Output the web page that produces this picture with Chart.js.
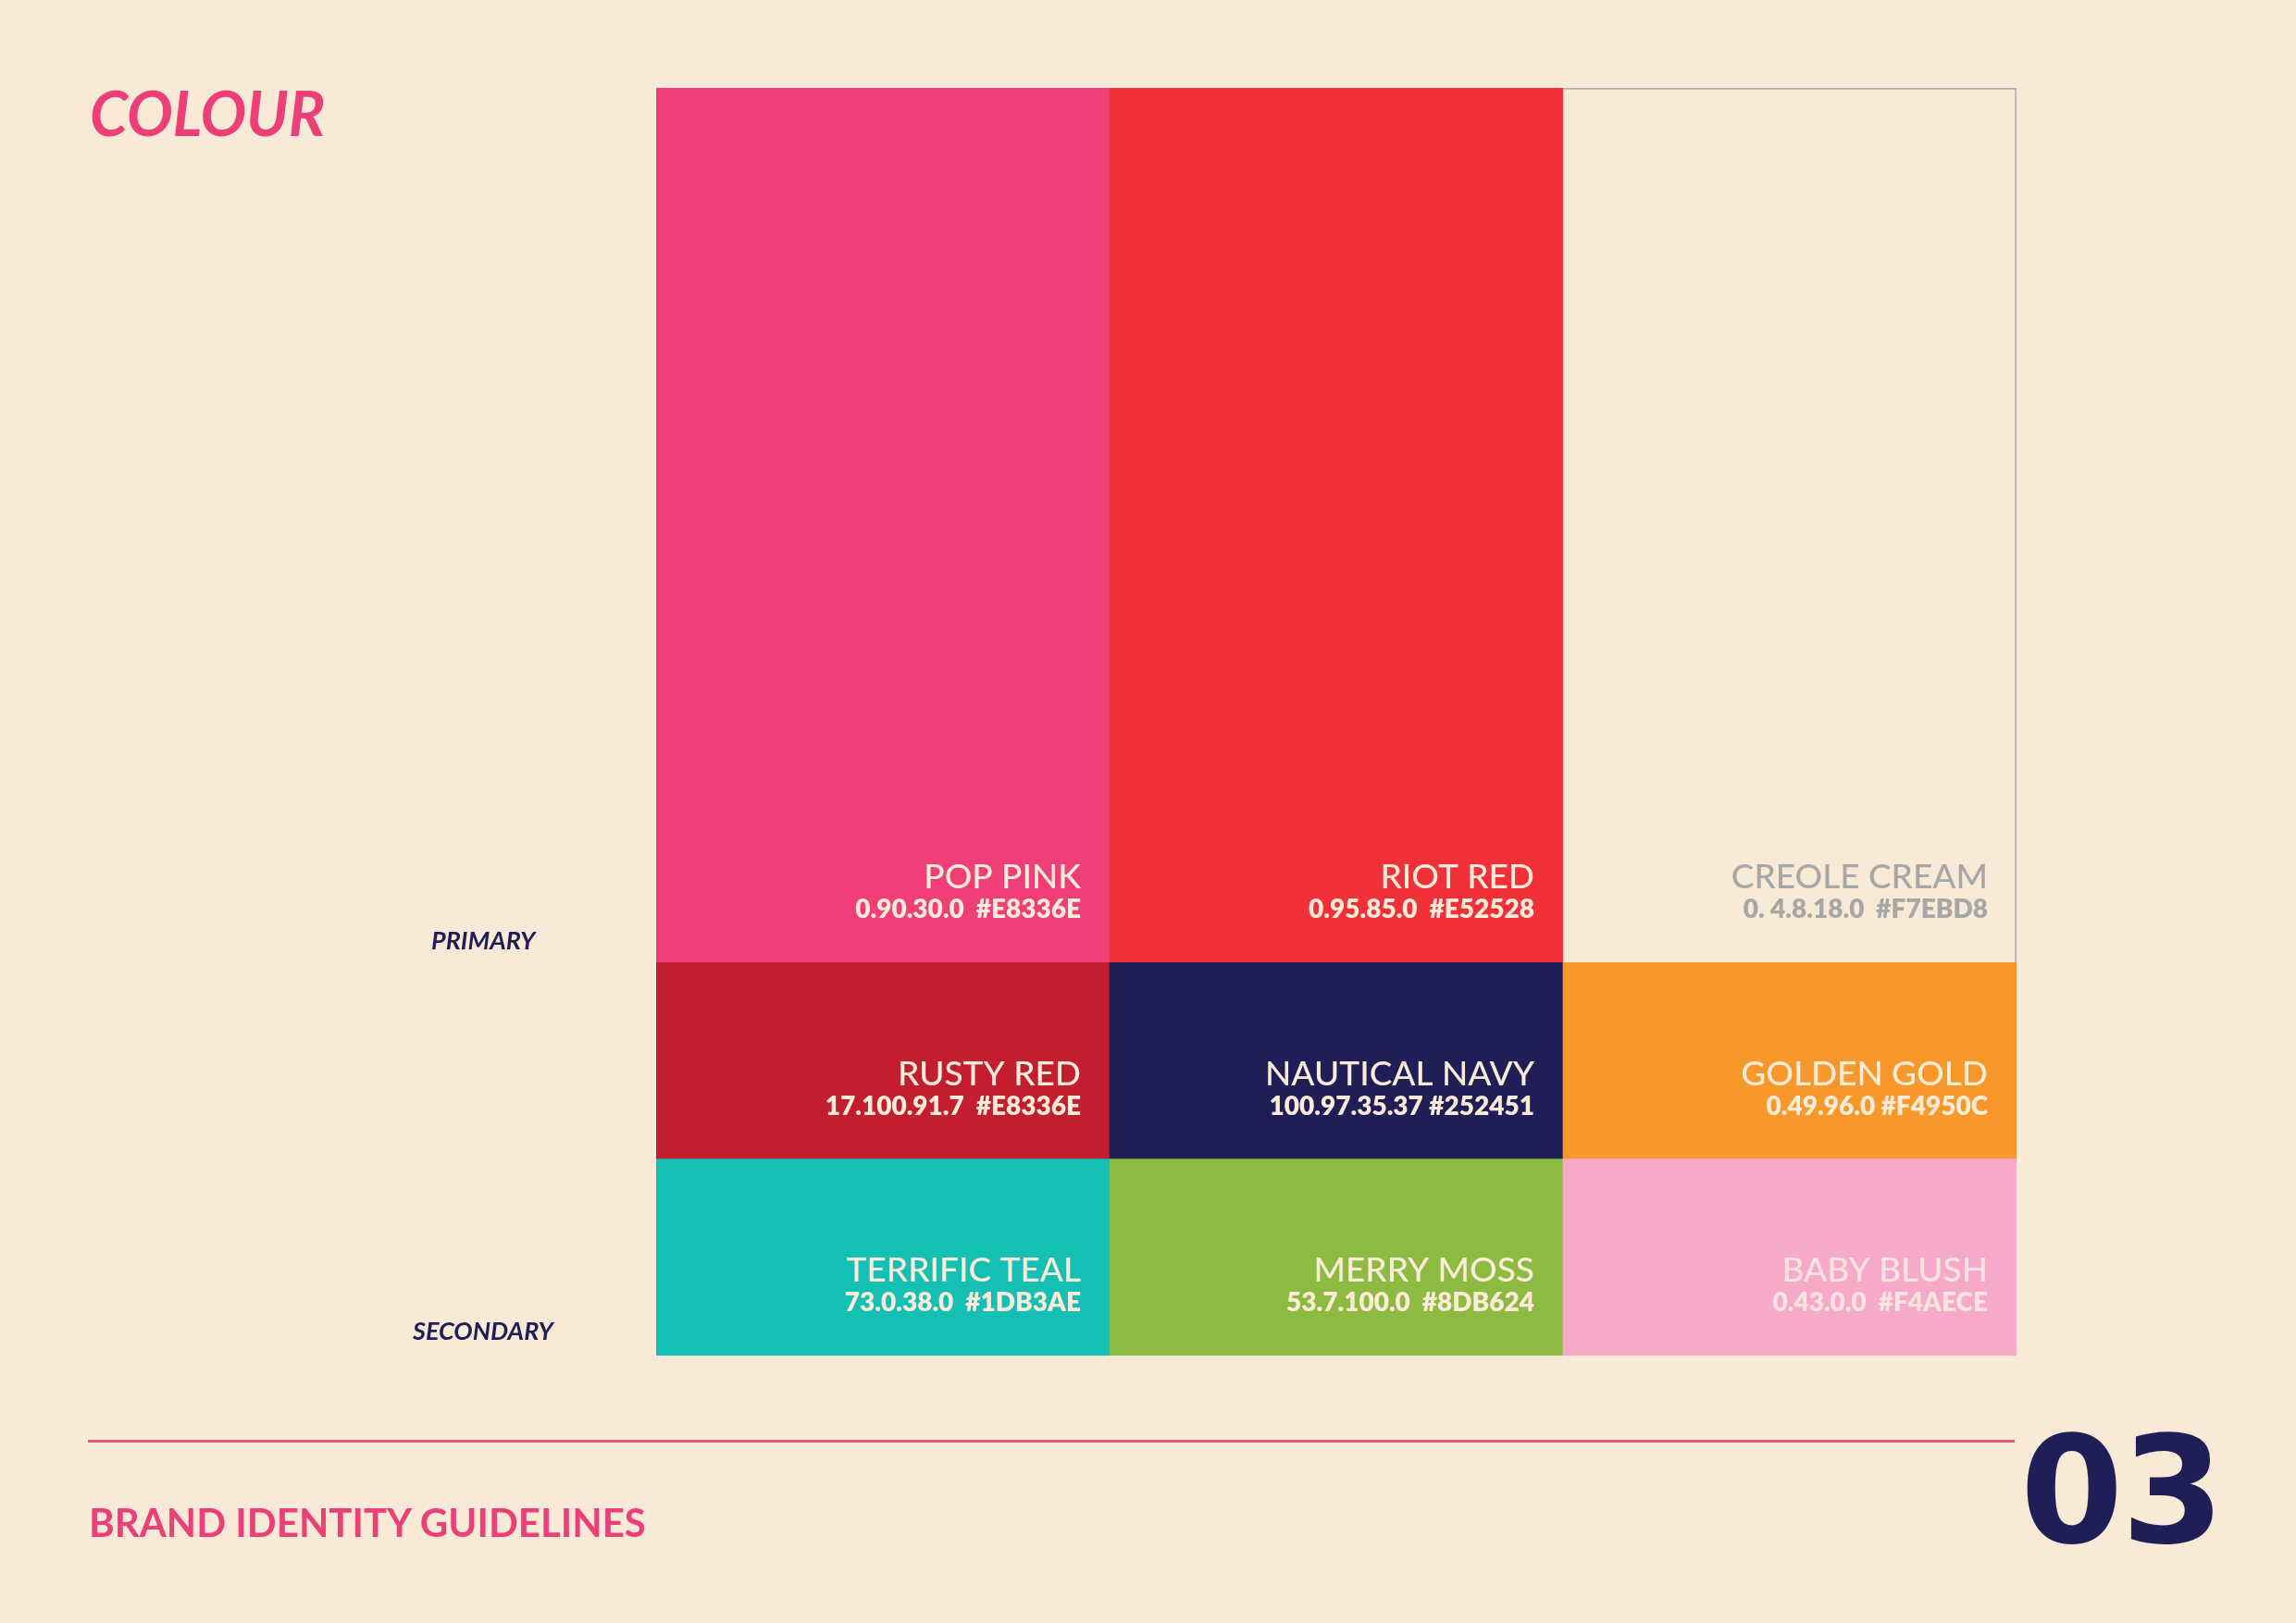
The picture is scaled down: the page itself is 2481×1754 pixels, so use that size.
<!DOCTYPE html>
<html><head><meta charset="utf-8">
<script src="https://cdn.jsdelivr.net/npm/chart.js@4"></script>
<style>
html,body{margin:0;padding:0;background:#F9EAD7;width:2481px;height:1754px;overflow:hidden;font-family:Lato,sans-serif}
#wrap{position:absolute;left:0;top:0;width:2481px;height:1754px}
.t{position:absolute;white-space:nowrap}
</style></head><body>
<div id="wrap"><canvas id="c" width="2481" height="1754"></canvas></div>
<div class="t" style="left:97px;top:82px;font-size:66px;font-style:italic;font-weight:700;color:#EC3F77">COLOUR</div>
<div class="t" style="left:466px;top:999px;font-size:27px;font-style:italic;font-weight:700;color:#1F1E57">PRIMARY</div>
<div class="t" style="left:446px;top:1421px;font-size:27px;font-style:italic;font-weight:700;color:#1F1E57">SECONDARY</div>
<div class="t" style="left:95px;top:1556px;width:2082px;height:3px;background:#E3587A"></div>
<div class="t" style="left:96px;top:1620px;font-size:42px;font-weight:700;color:#EC3F77">BRAND IDENTITY GUIDELINES</div>
<div class="t" style="left:2183px;top:1518px;font-size:160px;font-weight:900;color:#1F1E57;letter-spacing:-2px;font-family:'DejaVu Sans',sans-serif">03</div>
<script>
const categories = ['Column 1','Column 2','Column 3'];
const secondaryLowValues = [15.5, 15.5, 15.5];
const secondaryMidValues = [15.5, 15.5, 15.5];
const primaryValues = [69, 69, 69];
const secondaryLowNames = ['TERRIFIC TEAL','MERRY MOSS','BABY BLUSH'];
const secondaryLowCodes = ['73.0.38.0  #1DB3AE','53.7.100.0  #8DB624','0.43.0.0  #F4AECE'];
const secondaryMidNames = ['RUSTY RED','NAUTICAL NAVY','GOLDEN GOLD'];
const secondaryMidCodes = ['17.100.91.7  #E8336E','100.97.35.37 #252451','0.49.96.0 #F4950C'];
const primaryNames = ['POP PINK','RIOT RED','CREOLE CREAM'];
const primaryCodes = ['0.90.30.0  #E8336E','0.95.85.0  #E52528','0. 4.8.18.0  #F7EBD8'];

const labelsPlugin = {
  id:'swatchLabels',
  afterDatasetsDraw(chart){
    const ctx = chart.ctx;
    chart.data.datasets.forEach((ds,i)=>{
      const meta = chart.getDatasetMeta(i);
      meta.data.forEach((el,j)=>{
        const xr = el.x + el.width/2 - 31;
        const yb = Math.max(el.y, el.base);
        ctx.save();
        ctx.fillStyle = ds.textColors[j];
        ctx.textAlign = 'right';
        ctx.textBaseline = 'alphabetic';
        ctx.font = '500 37px Lato, sans-serif';
        ctx.fillText(ds.names[j], xr, yb - 80);
        ctx.font = '800 28px Lato, sans-serif';
        ctx.fillText(ds.codes[j], xr, yb - 48);
        ctx.restore();
      });
    });
  }
};

new Chart(document.getElementById('c'), {
  type:'bar',
  data:{
    labels:categories,
    datasets:[
      {label:'Secondary 2', data:secondaryLowValues, names:secondaryLowNames, codes:secondaryLowCodes,
       backgroundColor:['#14BFB4','#8DBB41','#F7A9CA'], textColors:['#FBEBD8','#FBEBD8','#FBE3E0'], borderWidth:0},
      {label:'Secondary 1', data:secondaryMidValues, names:secondaryMidNames, codes:secondaryMidCodes,
       backgroundColor:['#C21E2E','#1F1E57','#F9982A'], textColors:['#FBEBD8','#FBEBD8','#FBEBD8'], borderWidth:0},
      {label:'Primary', data:primaryValues, names:primaryNames, codes:primaryCodes,
       backgroundColor:['#EF3E78','#F2303A','#F9EAD7'], textColors:['#FBEBD8','#FBEBD8','#A7A7A7'],
       borderColor:'#B5B0AA', borderSkipped:false,
       borderWidth:(c)=> c.dataIndex===2 ? {top:2,right:2,left:0,bottom:0} : 0}
    ]
  },
  options:{
    responsive:false, animation:false, devicePixelRatio:1,
    layout:{padding:{left:709,right:302,top:95,bottom:289}},
    datasets:{bar:{barPercentage:1,categoryPercentage:1}},
    scales:{
      x:{stacked:true,display:false},
      y:{stacked:true,display:false,min:0,max:100}
    },
    plugins:{legend:{display:false},tooltip:{enabled:false}}
  },
  plugins:[labelsPlugin]
});
</script>
</body></html>
